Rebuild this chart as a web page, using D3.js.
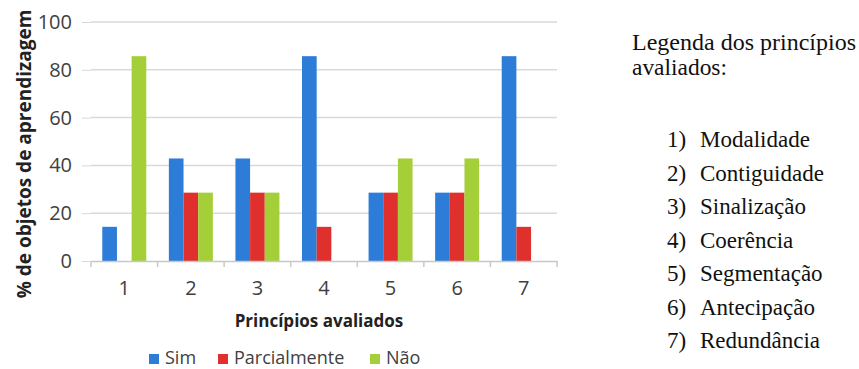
<!DOCTYPE html>
<html>
<head>
<meta charset="utf-8">
<script src="https://cdn.jsdelivr.net/npm/d3@7"></script>
<style>
  body { margin: 0; background: #fff; }
  svg text { font-family: "Open Sans", sans-serif; }
</style>
</head>
<body>
<div class="chart"></div>
<script>
const categories = ["1", "2", "3", "4", "5", "6", "7"];
const series = ["Sim", "Parcialmente", "Não"];
const sim = [14.3, 42.9, 42.9, 85.7, 28.6, 28.6, 85.7];
const parcialmente = [0, 28.6, 28.6, 14.3, 28.6, 28.6, 14.3];
const nao = [85.7, 28.6, 28.6, 0, 42.9, 42.9, 0];
const yTicks = [0, 20, 40, 60, 80, 100];
const legendTitle = ["Legenda dos princípios", "avaliados:"];
const principles = ["Modalidade", "Contiguidade", "Sinalização", "Coerência", "Segmentação", "Antecipação", "Redundância"];

const colors = ["#2c7cd8", "#e0302d", "#a5cf38"];
const values = [sim, parcialmente, nao];

const w = 859, h = 369,
    plotLeft = 91, plotRight = 557, plotTop = 22, plotBottom = 261;

const svg = d3.select(".chart").append("svg")
    .attr("width", w)
    .attr("height", h);

const xScale = d3.scaleBand()
    .domain(categories)
    .range([plotLeft, plotRight])
    .paddingInner(0)
    .paddingOuter(0);

const xInner = d3.scaleBand()
    .domain(series)
    .range([0, xScale.bandwidth()])
    .paddingOuter(0.77);

const yScale = d3.scaleLinear()
    .domain([0, 100])
    .range([plotBottom, plotTop]);

// grid + y axis
const yAxis = d3.axisLeft(yScale)
    .tickValues(yTicks)
    .tickSize(9)
    .tickPadding(10);
const gy = svg.append("g")
    .attr("transform", "translate(" + plotLeft + ",0)")
    .call(yAxis);
gy.select(".domain").remove();
gy.selectAll(".tick line").attr("stroke", "#d9d9d9");
gy.selectAll(".tick text")
    .attr("fill", "#404040")
    .style("font-size", "20px");
svg.append("g")
    .selectAll("line")
    .data(yTicks.slice(1))
    .enter()
    .append("line")
    .attr("x1", plotLeft)
    .attr("x2", plotRight)
    .attr("y1", d => yScale(d))
    .attr("y2", d => yScale(d))
    .attr("stroke", "#d9d9d9")
    .attr("stroke-width", 1.5);

// bars
series.forEach(function (s, si) {
    svg.append("g")
        .selectAll("rect")
        .data(categories)
        .enter()
        .append("rect")
        .attr("x", d => xScale(d) + xInner(s))
        .attr("y", (d, i) => yScale(values[si][i]))
        .attr("width", xInner.bandwidth())
        .attr("height", (d, i) => plotBottom - yScale(values[si][i]))
        .attr("fill", colors[si]);
});

// x axis
const xAxis = d3.axisBottom(xScale).tickSize(0).tickPadding(20);
const gx = svg.append("g")
    .attr("transform", "translate(0," + plotBottom + ")")
    .call(xAxis);
gx.select(".domain").attr("stroke", "#c8c8c8").attr("stroke-width", 1.5);
gx.selectAll(".tick text")
    .attr("fill", "#404040")
    .style("font-size", "20px");
gx.append("g")
    .selectAll("line")
    .data(categories.concat(["end"]))
    .enter()
    .append("line")
    .attr("x1", (d, i) => i < categories.length ? xScale(d) : plotRight)
    .attr("x2", (d, i) => i < categories.length ? xScale(d) : plotRight)
    .attr("y1", 0)
    .attr("y2", 6)
    .attr("stroke", "#c8c8c8")
    .attr("stroke-width", 1.5);

// axis titles
svg.append("text")
    .attr("x", 319)
    .attr("y", 327)
    .attr("text-anchor", "middle")
    .attr("fill", "#222")
    .style("font-size", "17px")
    .style("font-weight", "bold")
    .text("Princípios avaliados");

svg.append("text")
    .attr("transform", "rotate(-90)")
    .attr("x", -154)
    .attr("y", 31)
    .attr("text-anchor", "middle")
    .attr("fill", "#222")
    .style("font-size", "19px")
    .style("font-weight", "bold")
    .text("% de objetos de aprendizagem");

// series legend
const legendX = [149, 218, 370];
const lg = svg.append("g");
series.forEach(function (s, i) {
    lg.append("rect")
        .attr("x", legendX[i])
        .attr("y", 354)
        .attr("width", 10)
        .attr("height", 10)
        .attr("fill", colors[i]);
    lg.append("text")
        .attr("x", legendX[i] + 16)
        .attr("y", 364)
        .attr("fill", "#404040")
        .style("font-size", "18px")
        .text(s);
});

// principles legend
const rl = svg.append("g")
    .attr("fill", "#111");
legendTitle.forEach(function (t, i) {
    rl.append("text")
        .attr("x", 632)
        .attr("y", 50 + i * 25)
        .style("font-size", "24px")
        .style("font-family", "'Liberation Serif', serif")
        .attr("textLength", i === 0 ? 224 : 95)
        .attr("lengthAdjust", "spacingAndGlyphs")
        .text(t);
});
const rowY = d3.scalePoint()
    .domain(principles)
    .range([147, 348]);
principles.forEach(function (p, i) {
    rl.append("text")
        .attr("x", 667)
        .attr("y", rowY(p))
        .style("font-size", "23px")
        .style("font-family", "'Liberation Serif', serif")
        .text((i + 1) + ")");
    rl.append("text")
        .attr("x", 700)
        .attr("y", rowY(p))
        .style("font-size", "23px")
        .style("font-family", "'Liberation Serif', serif")
        .text(p);
});
</script>
</body>
</html>
